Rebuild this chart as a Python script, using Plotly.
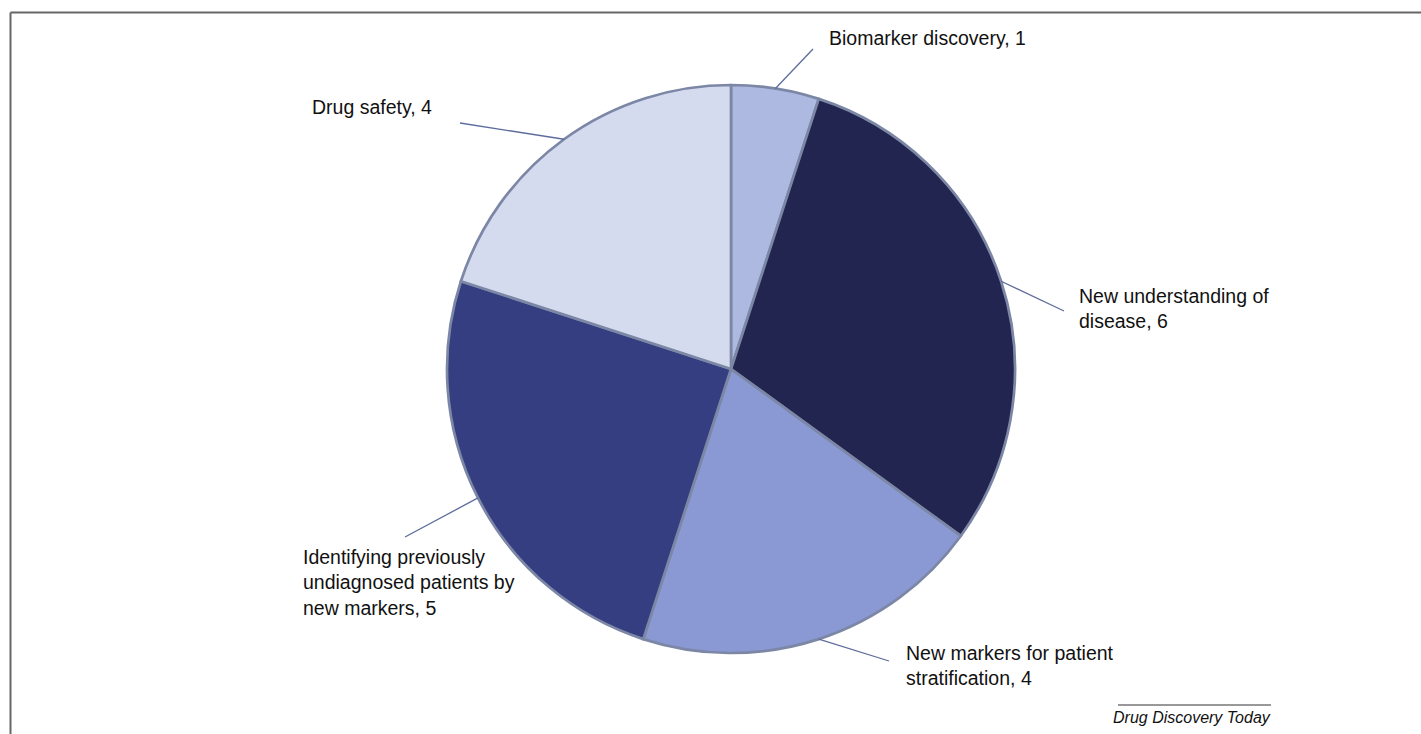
import math
import plotly.graph_objects as go

# ---- data ----
categories = [
    "Biomarker discovery",
    "New understanding of disease",
    "New markers for patient stratification",
    "Identifying previously undiagnosed patients by new markers",
    "Drug safety",
]
values = [1, 6, 4, 5, 4]
label_texts = [
    "Biomarker discovery, 1",
    "New understanding of<br>disease, 6",
    "New markers for patient<br>stratification, 4",
    "Identifying previously<br>undiagnosed patients by<br>new markers, 5",
    "Drug safety, 4",
]
colors = ["#adb9e0", "#21254f", "#8a99d3", "#343e80", "#d5dbef"]

# ---- layout constants (pixels) ----
W, H = 1421, 734
CX, CY, R = 731, 369, 284
leader_end = [(813, 49), (1064, 311), (889, 661), (405, 537), (460, 123)]
text_pos = [(827, 38, "left"), (1077, 308, "left"), (904, 665, "left"),
            (301, 582, "left"), (434, 107, "right")]

def px(x):
    return x / W

def py(y):
    return 1 - y / H

fig = go.Figure(go.Pie(
    labels=categories, values=values, sort=False, direction="clockwise",
    rotation=0, textinfo="none", hoverinfo="label+value",
    marker=dict(colors=colors, line=dict(color="#7c87a6", width=2.7)),
    domain=dict(x=[px(CX - R), px(CX + R)], y=[py(CY + R), py(CY - R)]),
    showlegend=False,
))

shapes = []
annotations = []
total = sum(values)
cum = 0
for i, v in enumerate(values):
    mid = (cum + v / 2) / total * 2 * math.pi
    cum += v
    ex = CX + R * math.sin(mid)
    ey = CY - R * math.cos(mid)
    lx, ly = leader_end[i]
    shapes.append(dict(type="line", xref="paper", yref="paper",
                       x0=px(ex), y0=py(ey), x1=px(lx), y1=py(ly),
                       line=dict(color="#5d6c9c", width=1.3)))
    tx, ty, anc = text_pos[i]
    annotations.append(dict(xref="paper", yref="paper", x=px(tx), y=py(ty),
                            text=label_texts[i], showarrow=False,
                            xanchor=anc, yanchor="middle", align="left",
                            font=dict(family="Liberation Sans, Arial", size=19.5,
                                      color="#111111")))

# frame lines (top and left)
shapes.append(dict(type="line", xref="paper", yref="paper", x0=px(10.5), y0=py(12.5),
                   x1=1, y1=py(12.5), line=dict(color="#666666", width=2)))
shapes.append(dict(type="line", xref="paper", yref="paper", x0=px(10.5), y0=py(12.5),
                   x1=px(10.5), y1=0, line=dict(color="#666666", width=2)))
# caption rule
shapes.append(dict(type="line", xref="paper", yref="paper", x0=px(1118), y0=py(705),
                   x1=px(1271), y1=py(705), line=dict(color="#333333", width=1)))
annotations.append(dict(xref="paper", yref="paper", x=px(1273), y=py(717),
                        text="<i>Drug Discovery Today</i>", showarrow=False,
                        xanchor="right", yanchor="middle",
                        font=dict(family="Liberation Sans, Arial", size=16,
                                  color="#111111")))

fig.update_layout(width=W, height=H, margin=dict(l=0, r=0, t=0, b=0),
                  paper_bgcolor="white", plot_bgcolor="white",
                  shapes=shapes, annotations=annotations)
fig.write_html("out.html", config={"displayModeBar": False},
               post_script="document.body.style.margin='0';"
                           "document.body.style.overflow='hidden';")
